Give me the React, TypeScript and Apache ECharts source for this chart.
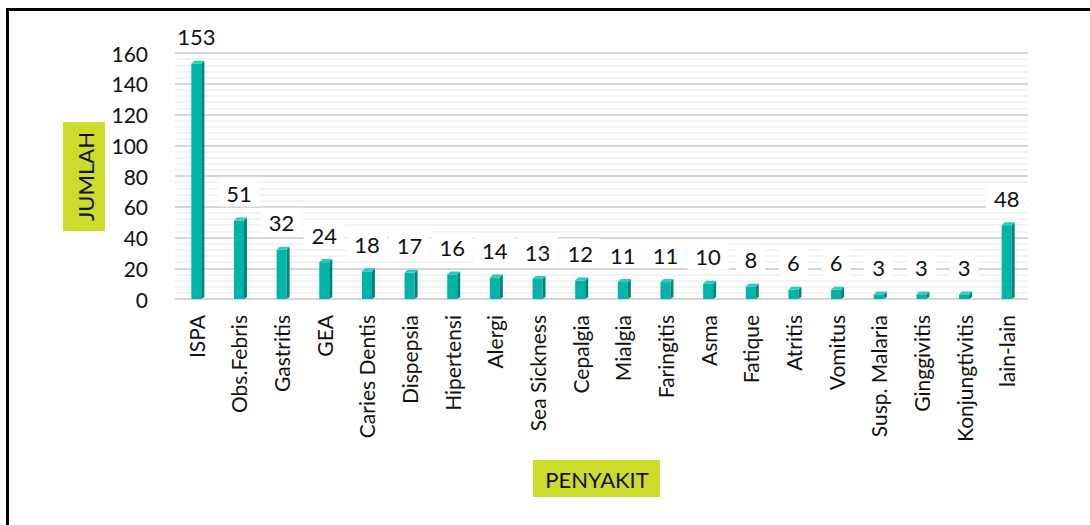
import React, { useEffect, useRef } from "react";
import * as echarts from "echarts";

const categories = [
  "ISPA", "Obs.Febris", "Gastritis", "GEA", "Caries Dentis", "Dispepsia",
  "Hipertensi", "Alergi", "Sea Sickness", "Cepalgia", "Mialgia", "Faringitis",
  "Asma", "Fatique", "Atritis", "Vomitus", "Susp. Malaria", "Ginggivitis",
  "Konjungtivitis", "lain-lain",
];
const values = [153, 51, 32, 24, 18, 17, 16, 14, 13, 12, 11, 11, 10, 8, 6, 6, 3, 3, 3, 48];
const yTicks = [0, 20, 40, 60, 80, 100, 120, 140, 160];
const yTitle = "JUMLAH";
const xTitle = "PENYAKIT";

const FONT = "Lato, 'Open Sans', sans-serif";

export default function App() {
  const ref = useRef<HTMLDivElement>(null);
  useEffect(() => {
    if (!ref.current) return;
    const chart = echarts.init(ref.current, undefined, { renderer: "svg" });
    const data = categories.map((c, i) => [i, values[i]]);
    chart.setOption({
      animation: false,
      backgroundColor: "#ffffff",
      grid: { left: 175, top: 53, width: 853, height: 246 },
      xAxis: {
        type: "category",
        data: categories,
        axisLine: { show: false },
        axisTick: { show: false },
        axisLabel: {
          rotate: 90,
          interval: 0,
          margin: 16,
          fontSize: 21,
          fontFamily: FONT,
          color: "#111",
        },
      },
      yAxis: {
        type: "value",
        min: yTicks[0],
        max: yTicks[yTicks.length - 1],
        interval: 20,
        axisLine: { show: false },
        axisTick: { show: false },
        axisLabel: { fontSize: 21, fontFamily: FONT, color: "#111", margin: 27 },
        splitLine: { lineStyle: { color: "#d6d6d6", width: 2 } },
        minorTick: { show: false, splitNumber: 5 },
        minorSplitLine: { show: true, lineStyle: { color: "#efefef", width: 1.5 } },
      },
      series: [
        {
          type: "bar",
          data: values,
          barWidth: 10,
          itemStyle: { color: "#00b5a6" },
          z: 2,
          label: {
            show: true,
            position: "top",
            distance: 14,
            fontSize: 22,
            fontFamily: FONT,
            color: "#111",
            backgroundColor: "#ffffff",
            padding: [4, 8, 2, 8],
          },
        },
        {
          type: "custom",
          data: data,
          z: 3,
          renderItem: (params: any, api: any) => {
            const top = api.coord([api.value(0), api.value(1)]);
            const base = api.coord([api.value(0), 0]);
            const cx = top[0];
            const ty = top[1];
            const by = base[1];
            return {
              type: "group",
              children: [
                {
                  type: "polygon",
                  shape: { points: [[cx + 5, ty], [cx + 8, ty - 3], [cx + 8, by - 2], [cx + 5, by]] },
                  style: { fill: "#00857a" },
                },
                {
                  type: "polygon",
                  shape: { points: [[cx - 5, ty], [cx - 2, ty - 3], [cx + 8, ty - 3], [cx + 5, ty]] },
                  style: { fill: "#2ccbbd" },
                },
              ],
            };
          },
        },
      ],
      graphic: [
        { type: "line", shape: { x1: 6, y1: 9.5, x2: 1090, y2: 9.5 }, style: { stroke: "#000", lineWidth: 3 } },
        { type: "line", shape: { x1: 7.5, y1: 8, x2: 7.5, y2: 525 }, style: { stroke: "#000", lineWidth: 3 } },
        { type: "rect", shape: { x: 63, y: 122, width: 42, height: 109 }, style: { fill: "#cddb2a" } },
        {
          type: "text",
          x: 85,
          y: 176.5,
          rotation: Math.PI / 2,
          style: {
            text: yTitle,
            fontSize: 22,
            fontFamily: FONT,
            fill: "#111",
            align: "center",
            verticalAlign: "middle",
          },
        },
        { type: "rect", shape: { x: 533, y: 460, width: 127, height: 37 }, style: { fill: "#cddb2a" } },
        {
          type: "text",
          x: 597,
          y: 479,
          style: {
            text: xTitle,
            fontSize: 22,
            fontFamily: FONT,
            fill: "#111",
            align: "center",
            verticalAlign: "middle",
          },
        },
      ],
    });
    return () => chart.dispose();
  }, []);
  return (
    <div
      ref={ref}
      style={{ position: "fixed", left: 0, top: 0, width: 1090, height: 525 }}
    />
  );
}
